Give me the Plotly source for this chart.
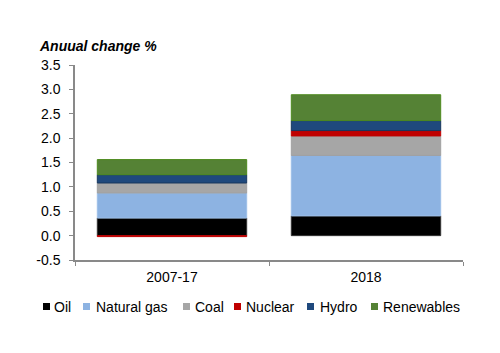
import plotly.graph_objects as go

categories = ["2007-17", "2018"]
series_names = ["Oil", "Natural gas", "Coal", "Nuclear", "Hydro", "Renewables"]
oil = [0.36, 0.405]
natural_gas = [0.515, 1.24]
coal = [0.205, 0.40]
nuclear = [-0.02, 0.11]
hydro = [0.17, 0.205]
renewables = [0.31, 0.53]
y_ticks = [-0.5, 0.0, 0.5, 1.0, 1.5, 2.0, 2.5, 3.0, 3.5]

values = [oil, natural_gas, coal, nuclear, hydro, renewables]
fills = ["#000000", "#8DB3E2", "#A6A6A6", "#C00000", "#1F497D", "#558235"]
edges = ["#333333", "#9DBFE8", "#A0A0A0", "#C00000", "#17375E", "#4E8A1E"]

# plot area in pixels (layout constants)
L, R, T, B = 75, 463, 65, 260
W, H = 500, 353

def px_x(px):
    return (px - L) / (R - L)

def px_y(py):
    return (B - py) / (B - T)

fig = go.Figure()
for name, v, c, e in zip(series_names, values, fills, edges):
    fig.add_trace(go.Bar(x=categories, y=v, name=name, showlegend=False,
                         marker=dict(color=c, line=dict(color=e, width=1))))

font_family = "Liberation Sans, Arial, sans-serif"

# custom one-row legend (layout positions in px)
legend_square_x = [43, 83, 183, 234, 307, 371]
legend_text_x = [53, 95, 194, 245, 319, 382]
legend_y = 306.5
sq = 7
shapes = []
annotations = []
for name, c, sx, tx in zip(series_names, fills, legend_square_x, legend_text_x):
    shapes.append(dict(type="rect", xref="paper", yref="paper",
                       x0=px_x(sx), x1=px_x(sx + sq),
                       y0=px_y(legend_y + sq / 2), y1=px_y(legend_y - sq / 2),
                       fillcolor=c, line=dict(width=0)))
    annotations.append(dict(text=name, xref="paper", yref="paper",
                            x=px_x(tx), y=px_y(legend_y), xanchor="left", yanchor="middle",
                            showarrow=False, xshift=-1,
                            font=dict(size=14, color="#000000", family=font_family)))

annotations.append(dict(text="<b><i>Anuual change %</i></b>", xref="paper", yref="paper",
                        x=px_x(37), y=px_y(46), xanchor="left", yanchor="middle",
                        showarrow=False, font=dict(size=14, color="#000000", family=font_family)))

fig.update_layout(
    barmode="relative",
    bargap=0.23,
    width=W, height=H,
    margin=dict(l=L, r=W - R, t=T, b=H - B),
    plot_bgcolor="white", paper_bgcolor="white",
    font=dict(family=font_family, size=14, color="#000000"),
    showlegend=False,
    xaxis=dict(showline=True, linecolor="#898989", linewidth=1.5,
               ticks="outside", tickson="boundaries", ticklen=4, tickcolor="#898989",
               showgrid=False, tickfont=dict(size=14), ticklabelstandoff=3),
    yaxis=dict(range=[-0.5, 3.5], tickvals=y_ticks,
               ticktext=[f"{t:.1f}" for t in y_ticks],
               showline=True, linecolor="#898989", linewidth=1.5,
               ticks="outside", ticklen=4, tickcolor="#898989",
               showgrid=False, zeroline=False, tickfont=dict(size=14),
               ticklabelstandoff=6),
    shapes=shapes,
    annotations=annotations,
)

fig.write_html("out.html")
